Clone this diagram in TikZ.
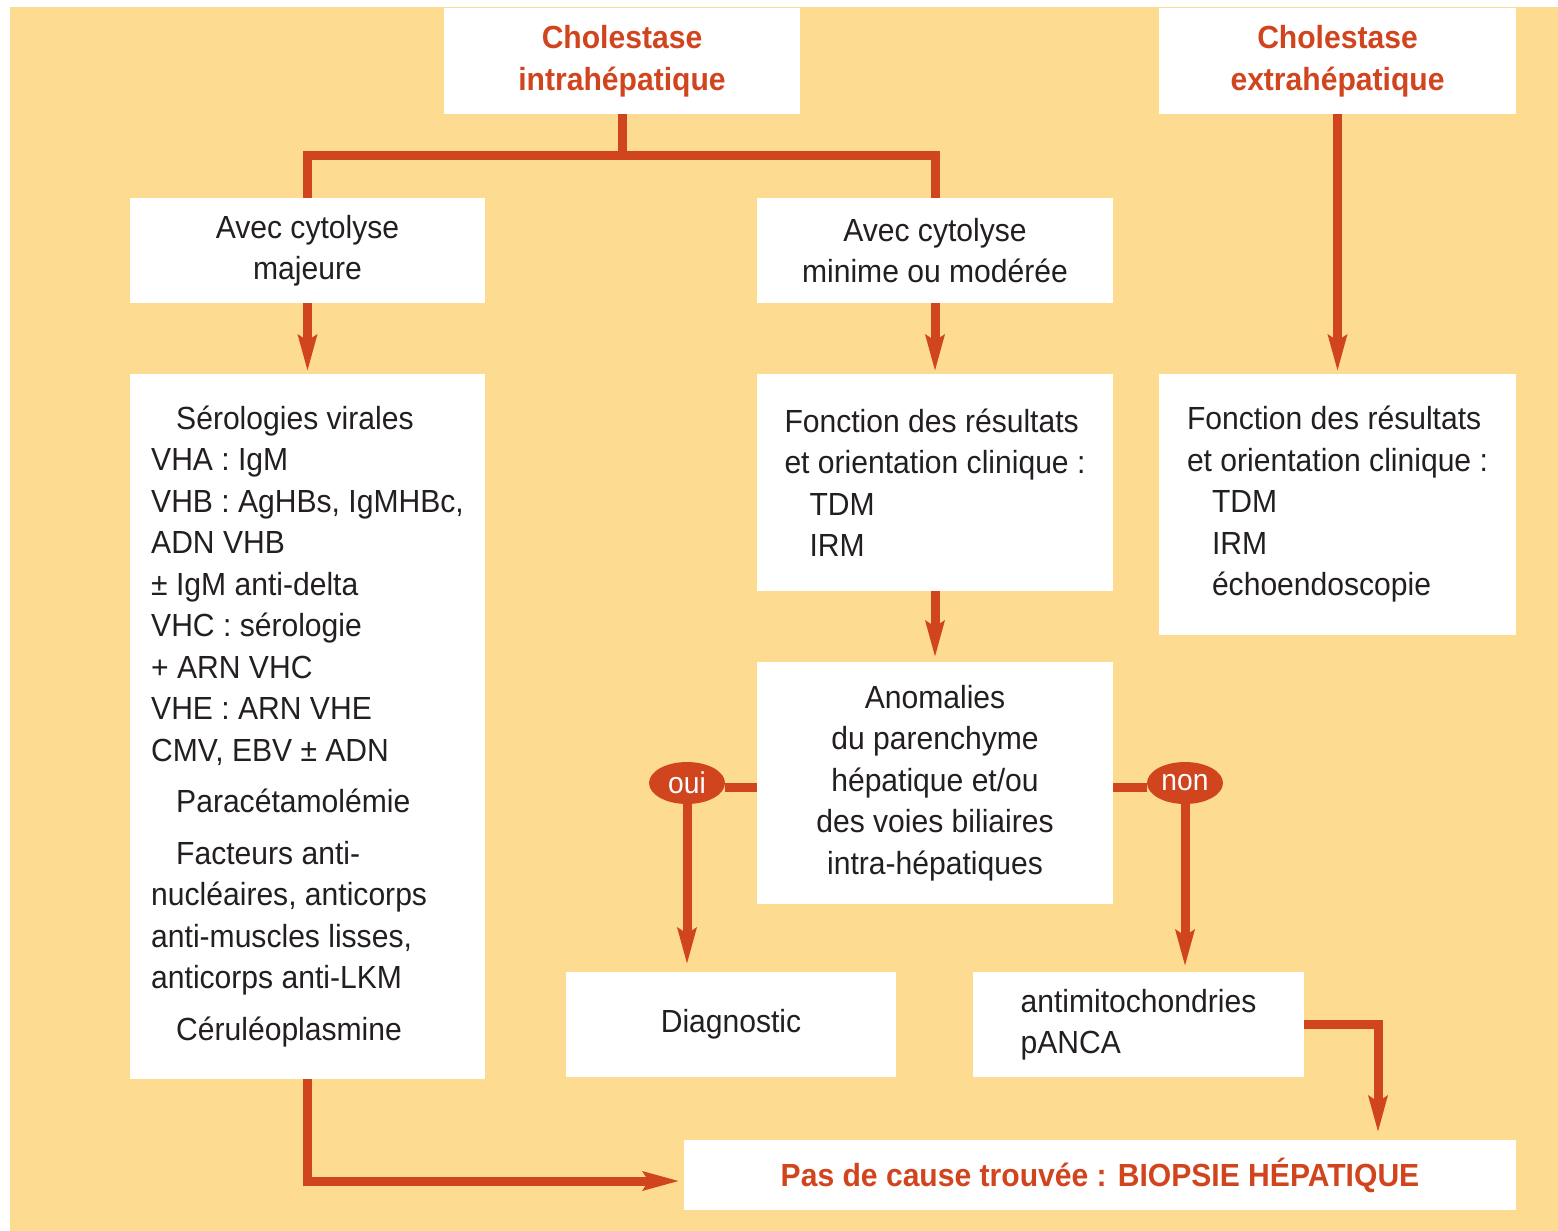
\documentclass[tikz,border=0pt]{standalone}
\usepackage{fontspec}
\setmainfont{Liberation Sans}[FakeStretch=0.94]
\usetikzlibrary{arrows.meta,shapes.geometric,positioning,calc}
\definecolor{fond}{RGB}{253,220,145}
\definecolor{rouge}{RGB}{209,69,30}
\definecolor{encre}{RGB}{35,31,32}

\begin{document}
\begin{tikzpicture}[x=1pt, y=-1pt,
    boite/.style={fill=white, inner sep=0pt, align=center, text=encre, font=\fontsize{32}{41.5}\selectfont},
    titre/.style={boite, text=rouge, font=\fontsize{32}{41.5}\selectfont\bfseries},
    gauche/.style={boite, align=left},
    choix/.style={ellipse, fill=rouge, text=white, inner sep=0pt, minimum width=76pt, minimum height=42pt, font=\fontsize{30}{36}\selectfont},
    trait/.style={draw=rouge, line width=9pt},
    fleche/.style={trait, -{Stealth[length=36pt, width=18pt, inset=5pt]}}
]
\useasboundingbox (0,0) rectangle (1558,1231);
\fill[fond] (10,7) rectangle (1558,1231);

% en-tetes
\node[titre, minimum width=356pt, minimum height=106pt] (intra) at (622,61) {Cholestase\\intrahépatique};
\node[titre, minimum width=357pt, minimum height=106pt] (extra) at (1337.5,61) {Cholestase\\extrahépatique};

% branche intrahepatique
\node[boite, minimum width=355pt, minimum height=105pt] (majeure) at (307.5,250.5) {Avec cytolyse\\majeure};
\node[boite, minimum width=356pt, minimum height=105pt] (minime) at (935,250.5) {Avec cytolyse\\minime ou modérée};
\node[gauche, minimum width=355pt, minimum height=705pt] (sero) at (307.5,726.5) {%
  \hspace*{25pt}Sérologies virales\\
  VHA : IgM\\
  VHB : AgHBs, IgMHBc,\\
  ADN VHB\\
  ± IgM anti-delta\\
  VHC : sérologie\\
  + ARN VHC\\
  VHE : ARN VHE\\
  CMV, EBV ± ADN\\[10pt]
  \hspace*{25pt}Paracétamolémie\\[10pt]
  \hspace*{25pt}Facteurs anti-\\
  nucléaires, anticorps\\
  anti-muscles lisses,\\
  anticorps anti-LKM\\[10pt]
  \hspace*{25pt}Céruléoplasmine};
\node[gauche, minimum width=356pt, minimum height=217pt] (fmid) at (935,482.5) {%
  Fonction des résultats\\
  et orientation clinique :\\
  \hspace*{25pt}TDM\\
  \hspace*{25pt}IRM};
\node[boite, minimum width=356pt, minimum height=242pt] (anom) at (935,783) {Anomalies\\du parenchyme\\hépatique et/ou\\des voies biliaires\\intra-hépatiques};
\node[boite, minimum width=330pt, minimum height=105pt] (diag) at (731,1024.5) {Diagnostic};
\node[gauche, minimum width=331pt, minimum height=105pt] (antimito) at (1138.5,1024.5) {antimitochondries\\pANCA};

% branche extrahepatique
\node[gauche, minimum width=357pt, minimum height=261pt] (fext) at (1337.5,504.5) {%
  Fonction des résultats\\
  et orientation clinique :\\
  \hspace*{25pt}TDM\\
  \hspace*{25pt}IRM\\
  \hspace*{25pt}échoendoscopie};

\node[titre, minimum width=832pt, minimum height=70pt] (biopsie) at (1100,1175) {Pas de cause trouvée : BIOPSIE HÉPATIQUE};

% liaisons
\coordinate (fourche) at (622,155);
\draw[trait] (intra) -- (fourche);
\draw[trait] (majeure.north) |- (fourche) -| (minime.north);
\draw[fleche, shorten >=2pt] (majeure) -- (sero);
\draw[fleche, shorten >=2pt] (minime) -- (fmid);
\draw[fleche, shorten >=2pt] (extra) -- (fext);
\draw[fleche, shorten >=4pt] (fmid) -- (anom);

\node[choix] (oui) at (687,783) {oui};
\node[choix] (non) at (1185,783) {non};
\draw[trait] ([yshift=-4pt]anom.west) -- ([yshift=-4pt]anom.west -| oui.east);
\draw[trait] ([yshift=-4pt]anom.east) -- ([yshift=-4pt]anom.east -| non.west);
\draw[fleche, shorten >=7pt] (oui) -- (oui |- diag.north);
\draw[fleche, shorten >=5pt] (non) -- (non |- antimito.north);
\draw[fleche, shorten >=7pt] (antimito.east) -| ([xshift=278pt]biopsie.north);
\draw[fleche, shorten >=4pt] (sero.south) |- ([yshift=-6pt]biopsie.west);
\end{tikzpicture}
\end{document}
